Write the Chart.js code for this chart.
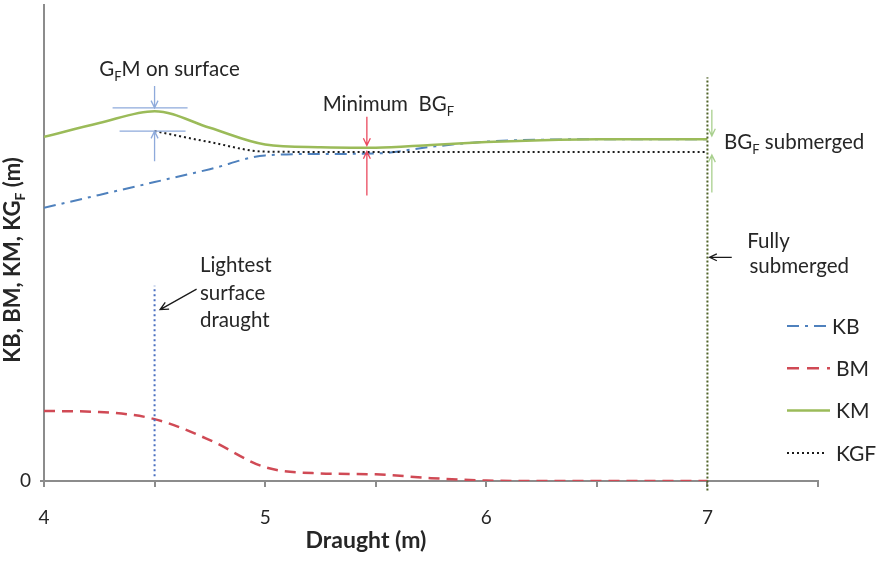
<!DOCTYPE html>
<html>
<head>
<meta charset="utf-8">
<script src="https://cdn.jsdelivr.net/npm/chart.js@4.4.1/dist/chart.umd.min.js"></script>
<style>
  html, body { margin: 0; padding: 0; background: #fff; }
  #wrap { position: relative; width: 884px; height: 580px; }
</style>
</head>
<body>
<div id="wrap"><canvas id="stab"></canvas></div>
<script>
// --- data (m) ---
const draught = [4.0, 4.25, 4.5, 4.75, 5.0, 5.25, 5.5, 5.75, 6.0, 6.25, 6.5, 6.75, 7.0];
const kb = [5.74, 6.01, 6.28, 6.55, 6.84, 6.87, 6.88, 7.02, 7.13, 7.17, 7.18, 7.18, 7.18];
const bm = [1.47, 1.45, 1.30, 0.86, 0.29, 0.16, 0.14, 0.06, 0.01, 0.0, 0.0, 0.0, 0.0];
const km = [7.23, 7.52, 7.77, 7.42, 7.07, 7.01, 7.00, 7.06, 7.12, 7.16, 7.18, 7.18, 7.18];
const kgfDraught = [4.5, 4.75, 5.0, 5.5, 6.0, 6.5, 7.0];
const kgf = [7.35, 7.12, 6.92, 6.91, 6.91, 6.91, 6.91];
const lightestDraught = 4.5;
const lightestSpan = [0.1, 4.1];
const submergedDraught = 7.0;
const submergedSpan = [-0.2, 8.48];
const xTicks = [4, 5, 6, 7];

const FONT = 'Lato, "Open Sans", sans-serif';
const TEXT = '#262626';
const AXIS = '#8c8c8c';
const NOTE = 20.5;

const pts = (xs, ys) => xs.map((x, i) => ({ x: x, y: ys[i] }));

// --- helpers ---
function richText(ctx, parts, x, y, size, bold, align) {
  // parts: [text, isSub]
  const f = (sub) => (bold ? 'bold ' : '') + (sub ? Math.round(size * 0.62) : size) + 'px ' + FONT;
  let w = 0;
  parts.forEach(p => { ctx.font = f(p[1]); w += ctx.measureText(p[0]).width; });
  let cx = align === 'center' ? x - w / 2 : x;
  ctx.textAlign = 'left';
  ctx.textBaseline = 'alphabetic';
  parts.forEach(p => {
    ctx.font = f(p[1]);
    ctx.fillText(p[0], cx, p[1] ? y + size * 0.22 : y);
    cx += ctx.measureText(p[0]).width;
  });
}

function arrow(ctx, x1, y1, x2, y2, color, head) {
  const a = Math.atan2(y2 - y1, x2 - x1);
  ctx.save();
  ctx.strokeStyle = color;
  ctx.lineWidth = 1.3;
  ctx.beginPath();
  ctx.moveTo(x1, y1);
  ctx.lineTo(x2, y2);
  ctx.moveTo(x2 - head * Math.cos(a - 0.45), y2 - head * Math.sin(a - 0.45));
  ctx.lineTo(x2, y2);
  ctx.lineTo(x2 - head * Math.cos(a + 0.45), y2 - head * Math.sin(a + 0.45));
  ctx.stroke();
  ctx.restore();
}

// --- annotations, titles and legend ---
const notes = {
  id: 'notes',
  afterDraw(chart) {
    const ctx = chart.ctx;
    const xs = chart.scales.x, ys = chart.scales.y;
    const px = v => xs.getPixelForValue(v);
    const py = v => ys.getPixelForValue(v);
    ctx.save();
    ctx.fillStyle = TEXT;

    // axis titles
    richText(ctx, [['Draught (m)', false]], 366, 548, 23, true, 'center');
    ctx.save();
    ctx.translate(20, 260);
    ctx.rotate(-Math.PI / 2);
    richText(ctx, [['KB, BM, KM, KG', false], ['F', true], [' (m)', false]], 0, 0, 22, true, 'center');
    ctx.restore();

    // GFM on surface
    const blue = '#8eaadb';
    const gx = px(4.5);
    ctx.strokeStyle = blue; ctx.lineWidth = 1.2;
    ctx.beginPath();
    ctx.moveTo(gx - 42, py(7.84)); ctx.lineTo(gx + 33, py(7.84));
    ctx.moveTo(gx - 35, py(7.35)); ctx.lineTo(gx + 31, py(7.35));
    ctx.stroke();
    arrow(ctx, gx, py(8.3), gx, py(7.84), blue, 8);
    arrow(ctx, gx, py(6.72), gx, py(7.35), blue, 8);
    richText(ctx, [['G', false], ['F', true], ['M on surface', false]], px(4.25), py(8.5), NOTE, false, 'left');

    // Minimum BGF
    const red = '#ea4a5f';
    const mx = px(5.46);
    arrow(ctx, mx, py(7.65), mx, py(7.05), red, 8);
    arrow(ctx, mx, py(6.0), mx, py(6.92), red, 8);
    richText(ctx, [['Minimum  BG', false], ['F', true]], px(5.26), py(7.77), NOTE, false, 'left');

    // BGF submerged
    const green = '#a9d08e';
    const sx = px(7.02);
    arrow(ctx, sx, py(7.8), sx, py(7.25), green, 8);
    arrow(ctx, sx, py(6.06), sx, py(6.85), green, 8);
    richText(ctx, [['BG', false], ['F', true], [' submerged', false]], px(7.075), py(6.97), NOTE, false, 'left');

    // Fully submerged
    arrow(ctx, px(7.11), py(4.7), px(7.01), py(4.7), '#1a1a1a', 8);
    richText(ctx, [['Fully', false]], px(7.18), py(4.9), NOTE, false, 'left');
    richText(ctx, [['submerged', false]], px(7.19), py(4.37), NOTE, false, 'left');

    // Lightest surface draught
    arrow(ctx, px(4.69), py(4.03), px(4.525), py(3.6), '#1a1a1a', 9);
    richText(ctx, [['Lightest', false]], px(4.705), py(4.39), NOTE, false, 'left');
    richText(ctx, [['surface', false]], px(4.705), py(3.8), NOTE, false, 'left');
    richText(ctx, [['draught', false]], px(4.705), py(3.24), NOTE, false, 'left');

    // legend
    const items = [
      ['KB', '#4f81bd', [12, 6, 3, 6], 2],
      ['BM', '#d04a55', [12, 8], 2.5],
      ['KM', '#9bbb59', [], 2.5],
      ['KGF', '#1a1a1a', [2, 3], 2]
    ];
    items.forEach((it, i) => {
      const y = 326 + i * 42.3;
      ctx.save();
      ctx.strokeStyle = it[1]; ctx.lineWidth = it[3]; ctx.setLineDash(it[2]);
      ctx.beginPath(); ctx.moveTo(787, y); ctx.lineTo(i === 3 ? 826 : 830, y); ctx.stroke();
      ctx.restore();
      ctx.font = '21px ' + FONT;
      ctx.textAlign = 'left'; ctx.textBaseline = 'middle';
      ctx.fillText(it[0], i === 0 ? 832 : 836, y + 1);
    });
    ctx.restore();
  }
};

new Chart(document.getElementById('stab'), {
  type: 'line',
  data: {
    datasets: [
      { label: 'KB', data: pts(draught, kb), borderColor: '#4f81bd', borderWidth: 2, borderDash: [12, 6, 3, 6], cubicInterpolationMode: 'monotone', order: 3 },
      { label: 'BM', data: pts(draught, bm), borderColor: '#d04a55', borderWidth: 2.5, borderDash: [11, 7], cubicInterpolationMode: 'monotone', order: 4 },
      { label: 'KM', data: pts(draught, km), borderColor: '#9bbb59', borderWidth: 2.5, cubicInterpolationMode: 'monotone', order: 2 },
      { label: 'KGF', data: pts(kgfDraught, kgf), borderColor: '#1a1a1a', borderWidth: 2, borderDash: [2, 3], cubicInterpolationMode: 'monotone', order: 1 },
      { label: 'lightest', data: [{ x: lightestDraught, y: lightestSpan[0] }, { x: lightestDraught, y: lightestSpan[1] }], borderColor: '#4a6fc0', borderWidth: 2, borderDash: [2, 3], order: 0 },
      { label: 'submerged', data: [{ x: submergedDraught, y: submergedSpan[0] }, { x: submergedDraught, y: submergedSpan[1] }], borderColor: '#4f6228', borderWidth: 2, borderDash: [2, 2], clip: false, order: 0 }
    ]
  },
  options: {
    responsive: true,
    maintainAspectRatio: false,
    animation: false,
    layout: { padding: { top: 5, right: 66, left: 0, bottom: 0 } },
    elements: { point: { radius: 0 }, line: { fill: false } },
    plugins: { legend: { display: false }, tooltip: { enabled: false } },
    scales: {
      x: {
        type: 'linear', min: 4, max: 7.5,
        afterBuildTicks: s => { s.ticks = [4, 4.5, 5, 5.5, 6, 6.5, 7, 7.5].map(v => ({ value: v })); },
        ticks: {
          autoSkip: false, maxRotation: 0, padding: 19, color: TEXT,
          font: { family: FONT, size: 19 },
          callback: v => (xTicks.includes(v) ? String(v) : '')
        },
        grid: { drawOnChartArea: false, tickLength: 6, color: AXIS, lineWidth: 2 },
        border: { color: AXIS, width: 2 },
        afterFit: s => { s.height = 99; s.paddingLeft = 0; s.paddingRight = 0; }
      },
      y: {
        min: 0, max: 10,
        afterBuildTicks: s => { s.ticks = [{ value: 0 }]; },
        ticks: { padding: 9, color: TEXT, font: { family: FONT, size: 19 }, callback: v => (v === 0 ? '0' : '') },
        grid: { drawOnChartArea: false, tickLength: 4, color: AXIS, lineWidth: 2 },
        border: { color: AXIS, width: 2 },
        afterFit: s => { s.width = 44; s.paddingTop = 0; s.paddingBottom = 0; }
      }
    }
  },
  plugins: [notes]
});
</script>
</body>
</html>
